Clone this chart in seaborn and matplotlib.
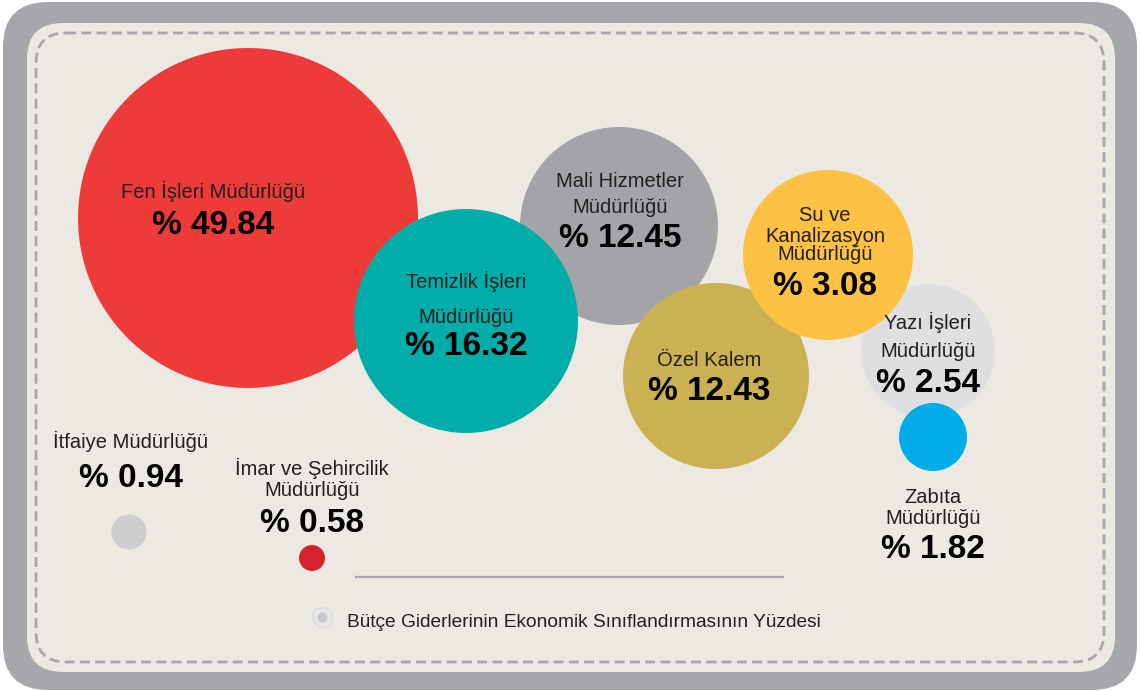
import numpy as np
import pandas as pd
import matplotlib
matplotlib.use("Agg")
import matplotlib.pyplot as plt
from matplotlib.patches import FancyBboxPatch
import seaborn as sns

# --- data -------------------------------------------------------------
units = ["Fen İşleri Müdürlüğü", "Mali Hizmetler Müdürlüğü", "Temizlik İşleri Müdürlüğü",
         "Özel Kalem", "Yazı İşleri Müdürlüğü", "Su ve Kanalizasyon Müdürlüğü",
         "Zabıta Müdürlüğü", "İtfaiye Müdürlüğü", "İmar ve Şehircilik Müdürlüğü"]
shares = [49.84, 12.45, 16.32, 12.43, 2.54, 3.08, 1.82, 0.94, 0.58]
label_lines = [["Fen İşleri Müdürlüğü"],
               ["Mali Hizmetler", "Müdürlüğü"],
               ["Temizlik İşleri", "Müdürlüğü"],
               ["Özel Kalem"],
               ["Yazı İşleri", "Müdürlüğü"],
               ["Su ve", "Kanalizasyon", "Müdürlüğü"],
               ["Zabıta", "Müdürlüğü"],
               ["İtfaiye Müdürlüğü"],
               ["İmar ve Şehircilik", "Müdürlüğü"]]
legend_text = "Bütçe Giderlerinin Ekonomik Sınıflandırmasının Yüzdesi"

# --- layout (pixel space of the picture) ------------------------------
bub_x = [248, 619, 466, 716, 928, 828, 933, 129, 312]
bub_y = [218, 226, 321, 376, 351, 255, 437, 532, 558]
bub_r = [170, 99, 112, 93, 67, 85, 34, 17.5, 13]
txt_x = [213, 620, 466, 709, 928, 825, 933, 131, 312]
txt_base = [[198, 234], [187, 213, 247], [288, 323, 355], [366, 400],
            [329, 357, 392], [221, 242, 260, 295], [503, 524, 558],
            [448, 487], [475, 496, 532]]
colors = ["#EC3B39", "#A3A4A8", "#00ADA8", "#CBB152", "#DFDFE1",
          "#FDC244", "#00ADE9", "#CDCDD0", "#D4232C"]

W, H = 1140, 691
fig = plt.figure(figsize=(W / 100, H / 100), dpi=100)
ax = fig.add_axes([0, 0, 1, 1])
ax.set_xlim(0, W)
ax.set_ylim(H, 0)
ax.axis("off")

# frame: grey outer, beige inner, dashed stitch
ax.add_patch(FancyBboxPatch((3, 2), 1134, 688, boxstyle="round,pad=0,rounding_size=45",
                            fc="#A6A7AB", ec="none", zorder=0))
ax.add_patch(FancyBboxPatch((27, 23), 1088, 649, boxstyle="round,pad=0,rounding_size=36",
                            fc="#ECE9E3", ec="none", zorder=0))
ax.add_patch(FancyBboxPatch((36, 33), 1068, 629, boxstyle="round,pad=0,rounding_size=30",
                            fill=False, ec="#A6A7AB", lw=2, ls=(0, (3.6, 1.9)), zorder=0))

df = pd.DataFrame({"unit": units, "share": shares, "x": bub_x, "y": bub_y})
sizes = (2 * np.array(bub_r) * 0.72) ** 2
sns.scatterplot(data=df, x="x", y="y", hue="unit", palette=dict(zip(units, colors)),
                s=sizes, linewidth=0, legend=False, ax=ax, zorder=3)

sans = ["Liberation Sans", "DejaVu Sans"]
for i, lines in enumerate(label_lines):
    for j, line in enumerate(lines):
        ax.text(txt_x[i], txt_base[i][j], line, ha="center", va="baseline",
                family=sans, fontsize=14.5, color="#231F20", zorder=5)
    ax.text(txt_x[i], txt_base[i][-1], f"% {shares[i]:.2f}", ha="center", va="baseline",
            family=sans, fontweight="bold", fontsize=24, color="#000000", zorder=5)

# separator line and legend
ax.plot([356, 783], [577, 577], color="#A6A7AB", lw=1.6, zorder=2)
ax.scatter([322], [617], s=(20 * 0.72) ** 2, color="#E6E6E7", edgecolor="#DADADC",
           linewidth=0.8, zorder=3)
ax.scatter([322], [617], s=(10 * 0.72) ** 2, color="#C9C9CB", linewidth=0, zorder=4)
ax.text(347, 627, legend_text, ha="left", va="baseline", family=sans,
        fontsize=13.8, color="#231F20")

fig.savefig("out.png", dpi=100, facecolor="white")
